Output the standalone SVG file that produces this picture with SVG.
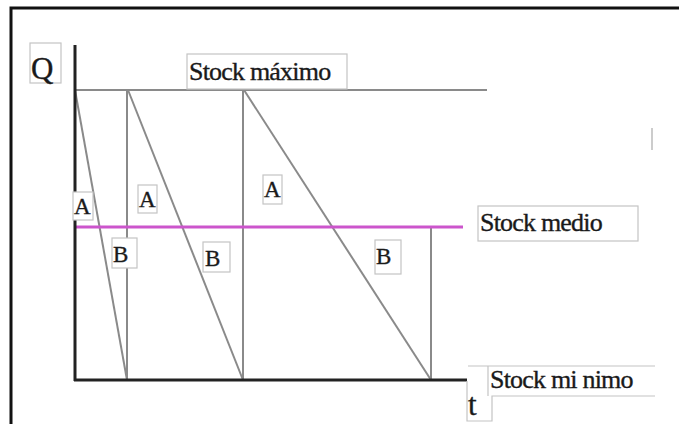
<svg xmlns="http://www.w3.org/2000/svg" width="679" height="424" viewBox="0 0 679 424">
<style>
.box{fill:#fff;stroke:#c4c4c4;stroke-width:1.2}
.t{font-family:"Liberation Serif","Times New Roman",serif;fill:#1a1a1a;stroke:#1a1a1a;stroke-width:0.35}
.s{font-size:26px;letter-spacing:-0.8px}
.ab{font-size:23px}
.ln{stroke:#8a8a8a;stroke-width:2;fill:none}
.ax{stroke:#222;stroke-width:3;fill:none}
</style>
<rect x="0" y="0" width="679" height="424" fill="#fff"/>
<g id="frame">
<path d="M11,424 V8 H679" fill="none" stroke="#111" stroke-width="3"/>
</g>
<g id="connectors">
<line class="ln" x1="75" y1="90" x2="487" y2="90"/>
<line class="ln" x1="75" y1="90" x2="127" y2="380"/>
<line class="ln" x1="127" y1="380" x2="127" y2="90"/>
<line class="ln" x1="128" y1="90" x2="243" y2="380"/>
<line class="ln" x1="243" y1="380" x2="243" y2="90"/>
<line class="ln" x1="244" y1="90" x2="431" y2="380"/>
<line class="ln" x1="431" y1="380" x2="431" y2="227"/>
<line x1="75" y1="227" x2="463" y2="227" stroke="#cc55cc" stroke-width="3"/>
<line class="ax" x1="75" y1="45" x2="75" y2="381"/>
<line class="ax" x1="74" y1="380" x2="467" y2="380"/>
<line x1="652" y1="128" x2="652" y2="150" stroke="#bbb" stroke-width="1.5"/>
</g>
<g id="label-Q">
<rect class="box" x="30" y="43" width="31" height="40"/>
<text class="t" x="31" y="79" font-size="31">Q</text>
</g>
<g id="label-stock-maximo">
<rect class="box" x="187" y="54" width="160" height="35"/>
<text class="t s" x="189" y="80">Stock máximo</text>
</g>
<g id="label-stock-medio">
<rect class="box" x="478" y="206" width="160" height="35"/>
<text class="t s" x="480" y="231">Stock medio</text>
</g>
<g id="label-stock-minimo">
<path d="M467,381 V421 H492 V396 H655 M468,366 H655" class="box" fill="none"/>
<line x1="488" y1="366" x2="488" y2="396" stroke="#c4c4c4" stroke-width="1.2"/>
<text class="t s" x="490" y="388">Stock mi nimo</text>
<text class="t" x="468" y="415" font-size="31">t</text>
</g>
<g id="label-A1">
<rect class="box" x="73" y="192" width="20" height="28"/>
<text class="t ab" x="74" y="214">A</text>
</g>
<g id="label-A2">
<rect class="box" x="138" y="185" width="19" height="28"/>
<text class="t ab" x="139" y="207">A</text>
</g>
<g id="label-A3">
<rect class="box" x="263" y="175" width="19" height="29"/>
<text class="t ab" x="264" y="197">A</text>
</g>
<g id="label-B1">
<rect class="box" x="112" y="238" width="25" height="30"/>
<text class="t ab" x="113" y="262">B</text>
</g>
<g id="label-B2">
<rect class="box" x="203" y="242" width="27" height="30"/>
<text class="t ab" x="205" y="266">B</text>
</g>
<g id="label-B3">
<rect class="box" x="375" y="240" width="26" height="34"/>
<text class="t ab" x="376" y="264">B</text>
</g>
</svg>
